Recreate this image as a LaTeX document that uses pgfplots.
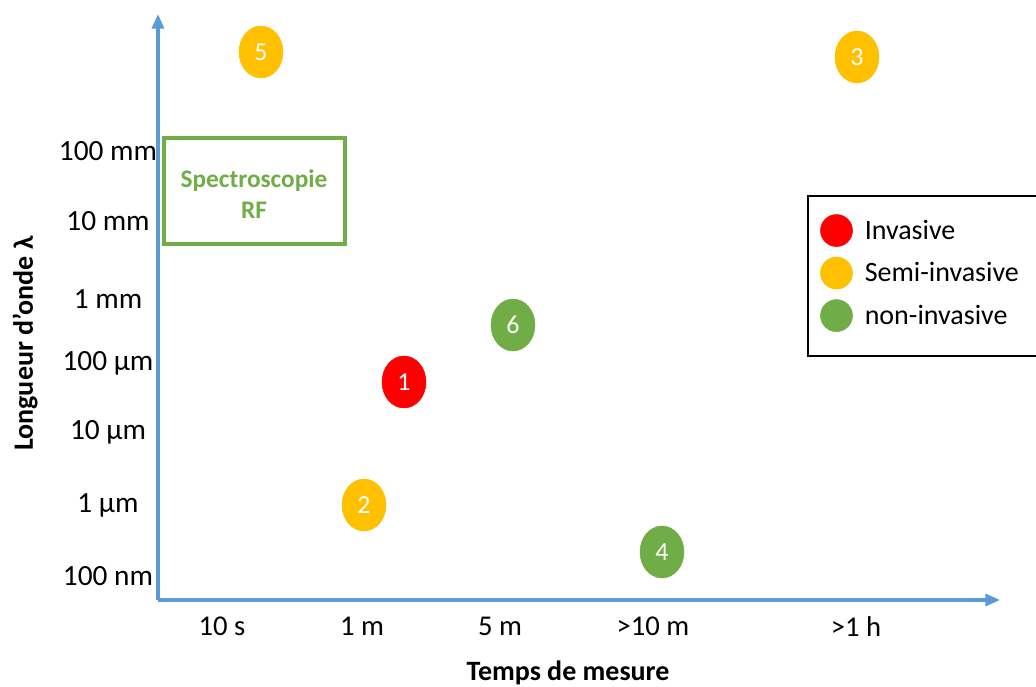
\documentclass[border=0pt]{standalone}
\usepackage{pgfplots}
\pgfplotsset{compat=1.18}
\usepackage{fontspec}
\setmainfont{Carlito}
\usetikzlibrary{arrows.meta}
\definecolor{axblue}{HTML}{5B9BD5}
\definecolor{invred}{HTML}{FF0000}
\definecolor{semiyel}{HTML}{FFC000}
\definecolor{nongreen}{HTML}{70AD47}

\begin{document}
\begin{tikzpicture}
% 1 unit = 1 px of the reference, y measured from the bottom edge
\begin{axis}[
    scale only axis,
    width=631.5pt, height=439.5pt,
    xmin=158, xmax=1000, ymin=86, ymax=672,
    clip=false,
    axis lines=left,
    axis line style={axblue, line width=2.5pt, -{Triangle[length=11pt,width=9pt]}},
    major tick length=0pt,
    xtick={222,362,500,653,856},
    xticklabels={10 s,1 m,5 m,>10 m,>1 h},
    ytick={535,465,387,323,254,181,110},
    yticklabels={100 mm,10 mm,1 mm,100 µm,10 µm,1 µm,100 nm},
    yticklabel style={anchor=center, xshift=-37.5pt, font=\fontsize{22}{26}\selectfont},
    xticklabel style={anchor=center, yshift=-20pt, font=\fontsize{21.5}{26}\selectfont},
    xlabel={\textbf{Temps de mesure}},
    xlabel style={at={(axis description cs:0.487,-0.1382)}, anchor=base,
                  font=\fontsize{21}{25}\selectfont},
    ylabel={\textbf{Longueur d’onde λ}},
    ylabel style={at={(axis description cs:-0.158,0.4377)}, anchor=center,
                  font=\fontsize{21}{25}\selectfont},
    only marks,
    mark=*,
    mark size=16.5pt,
    mark options={yscale=1.18},
    point meta=explicit symbolic,
    nodes near coords,
    every node near coord/.style={anchor=center, text=white,
                                  font=\fontsize{19.5}{23}\selectfont},
    legend image code/.code={\fill[#1] (12pt,0pt) circle (12pt);},
    legend cell align=left,
    legend style={at={(axis description cs:0.7862,0.6587)}, anchor=north west,
                  draw=none, fill=none, inner sep=0pt,
                  nodes={inner sep=0pt},
                  row sep=7.5pt, column sep=9pt,
                  font=\fontsize{21}{25}\selectfont},
]
\addplot[color=invred] coordinates {(404,304)[1]};
\addlegendentry{Invasive}
\addplot[color=semiyel] coordinates {(364,181)[2] (857,629)[3] (261,634)[5]};
\addlegendentry{Semi-invasive}
\addplot[color=nongreen] coordinates {(662,134)[4] (513,361)[6]};
\addlegendentry{non-invasive}

% legend frame (runs past the right edge, as in the reference)
\draw[black, line width=1pt] (axis cs:808,490) rectangle (axis cs:1060,330);

% Spectroscopie RF box
\draw[nongreen, line width=3pt] (axis cs:164,548) rectangle (axis cs:345,441.5);
\node[anchor=base, text=nongreen, font=\bfseries\fontsize{19}{23}\selectfont]
    at (axis cs:254,498) {Spectroscopie};
\node[anchor=base, text=nongreen, font=\bfseries\fontsize{19}{23}\selectfont]
    at (axis cs:254,467) {RF};

\coordinate (bl) at (axis cs:0,0);
\coordinate (tr) at (axis cs:1036,686);
\end{axis}
\pgfresetboundingbox
\path[use as bounding box] (bl) rectangle (tr);
\end{tikzpicture}
\end{document}
